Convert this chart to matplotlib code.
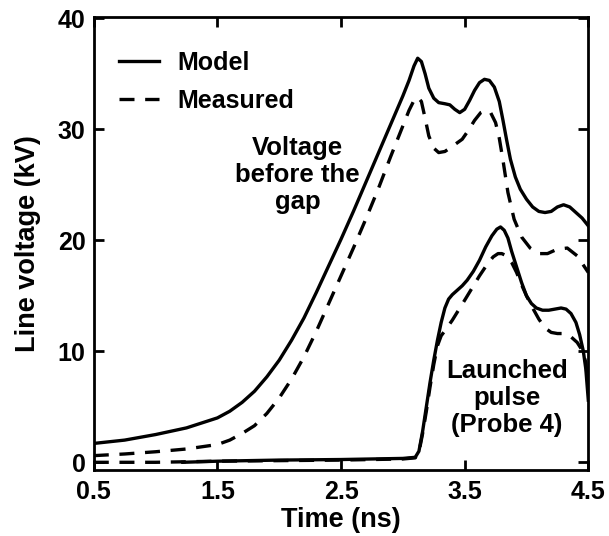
import matplotlib
matplotlib.use('Agg')
import matplotlib.pyplot as plt

plt.rcParams['font.family'] = ['Liberation Sans', 'DejaVu Sans']
plt.rcParams['font.weight'] = 'bold'

# voltage before the gap
t_gap_model = [0.5, 0.75, 1.0, 1.25, 1.5, 1.6, 1.7, 1.8, 1.9, 2.0, 2.1, 2.2, 2.3, 2.4,
               2.5, 2.6, 2.7, 2.8, 2.9, 3.0, 3.05, 3.09, 3.12, 3.15, 3.18, 3.21, 3.25,
               3.29, 3.34, 3.38, 3.42, 3.46, 3.5, 3.54, 3.58, 3.62, 3.66, 3.7, 3.74,
               3.78, 3.81, 3.84, 3.87, 3.91, 3.95, 4.0, 4.05, 4.1, 4.15, 4.2, 4.25,
               4.3, 4.35, 4.4, 4.45, 4.5]
v_gap_model = [1.7, 2.0, 2.5, 3.1, 4.0, 4.6, 5.4, 6.4, 7.7, 9.2, 11.0, 13.0, 15.3, 17.7,
               20.1, 22.6, 25.2, 27.8, 30.4, 33.0, 34.4, 35.7, 36.4, 36.1, 35.0, 33.7, 32.8,
               32.4, 32.3, 32.2, 31.8, 31.5, 31.8, 32.6, 33.5, 34.2, 34.5, 34.4, 33.8,
               32.5, 30.8, 29.0, 27.3, 25.7, 24.6, 23.7, 23.0, 22.6, 22.5, 22.6, 23.0,
               23.2, 23.0, 22.5, 22.0, 21.3]

t_gap_meas = [0.5, 0.75, 1.0, 1.25, 1.5, 1.6, 1.7, 1.8, 1.9, 2.0, 2.1, 2.2, 2.3, 2.4,
              2.5, 2.6, 2.7, 2.8, 2.9, 3.0, 3.05, 3.09, 3.12, 3.15, 3.18, 3.21, 3.25,
              3.29, 3.34, 3.38, 3.43, 3.48, 3.53, 3.58, 3.63, 3.67, 3.71, 3.75, 3.78,
              3.81, 3.85, 3.9, 3.96, 4.03, 4.1, 4.17, 4.25, 4.33, 4.41, 4.5]
v_gap_meas = [0.6, 0.75, 0.95, 1.2, 1.6, 2.0, 2.6, 3.3, 4.4, 5.8, 7.5, 9.5, 11.8, 14.3,
              16.8, 19.3, 21.9, 24.6, 27.5, 30.3, 31.7, 32.6, 32.9, 32.5, 31.0, 29.4, 28.3,
              27.9, 28.0, 28.3, 28.7, 29.1, 29.9, 30.8, 31.5, 31.7, 31.5, 30.6, 29.2,
              27.2, 24.3, 21.9, 20.3, 19.3, 18.8, 18.8, 19.2, 19.3, 18.6, 17.1]

# launched pulse (probe 4)
t_pulse_model = [1.22, 1.5, 2.0, 2.5, 3.0, 3.1, 3.13, 3.16, 3.19, 3.22, 3.25, 3.28, 3.31,
                 3.34, 3.37, 3.4, 3.44, 3.48, 3.52, 3.57, 3.62, 3.67, 3.72, 3.76, 3.79,
                 3.82, 3.85, 3.88, 3.92, 3.96, 4.0, 4.04, 4.08, 4.13, 4.18, 4.23, 4.28,
                 4.32, 4.36, 4.4, 4.43, 4.46, 4.48, 4.5]
v_pulse_model = [0.0, 0.1, 0.2, 0.25, 0.35, 0.45, 1.0, 2.8, 5.0, 7.2, 9.2, 11.0, 12.6,
                 13.9, 14.7, 15.1, 15.5, 15.9, 16.4, 17.2, 18.2, 19.4, 20.4, 21.0, 21.2,
                 20.9, 20.2, 19.0, 17.6, 16.2, 15.0, 14.3, 13.9, 13.7, 13.7, 13.8, 13.9,
                 13.8, 13.4, 12.6, 11.5, 10.0, 8.4, 5.6]

t_pulse_meas = [0.5, 1.0, 1.5, 2.0, 2.5, 3.0, 3.1, 3.13, 3.16, 3.19, 3.22, 3.25, 3.28,
                3.31, 3.35, 3.4, 3.45, 3.5, 3.56, 3.62, 3.68, 3.73, 3.77, 3.8, 3.84,
                3.88, 3.92, 3.96, 4.0, 4.05, 4.1, 4.15, 4.2, 4.25, 4.3, 4.36, 4.41,
                4.45, 4.48, 4.5]
v_pulse_meas = [0.0, 0.0, 0.1, 0.15, 0.2, 0.3, 0.4, 0.9, 2.6, 4.6, 6.8, 8.8, 10.5,
                11.4, 12.0, 12.8, 13.7, 14.6, 15.7, 16.8, 17.8, 18.5, 18.8, 18.8, 18.6,
                18.0, 17.1, 16.0, 15.0, 13.9, 12.9, 12.1, 11.7, 11.6, 11.6, 11.3, 10.8,
                10.1, 9.0, 6.5]

x_ticks = [0.5, 1.5, 2.5, 3.5, 4.5]
y_ticks = [0, 10, 20, 30, 40]

fig = plt.figure(figsize=(6.09, 5.36), dpi=100)
ax = fig.add_axes([0.154, 0.123, 0.812, 0.845])

lw = 2.4
dash = (0, (4.5, 3.2))
ax.plot(t_gap_model, v_gap_model, color='black', lw=lw, label='Model')
ax.plot(t_gap_meas, v_gap_meas, color='black', lw=lw, linestyle=dash, label='Measured')
ax.plot(t_pulse_meas, v_pulse_meas, color='black', lw=lw, linestyle=dash)
ax.plot(t_pulse_model, v_pulse_model, color='black', lw=lw)

ax.set_xlim(0.5, 4.5)
ax.set_ylim(-0.7, 40.1)
ax.set_xticks(x_ticks)
ax.set_yticks(y_ticks)
ax.set_xticklabels([str(v) for v in x_ticks])
ax.tick_params(direction='in', length=7, width=2, labelsize=18, top=True, right=True)
ax.tick_params(axis='x', pad=7)
ax.tick_params(axis='y', pad=6)
for s in ax.spines.values():
    s.set_linewidth(2)

ax.set_xlabel('Time (ns)', fontsize=19.5, fontweight='bold', labelpad=2)
ax.set_ylabel('Line voltage (kV)', fontsize=19.5, fontweight='bold', labelpad=12)

ax.legend(loc='upper left', bbox_to_anchor=(0.05, 0.925), frameon=False, fontsize=18,
          borderpad=0, borderaxespad=0, handlelength=1.6, handletextpad=0.75,
          labelspacing=0.55)

ax.text(2.15, 25.9, 'Voltage\nbefore the\ngap', ha='center', va='center',
        fontsize=18.5, fontweight='bold', linespacing=1.15)
ax.text(3.84, 5.8, 'Launched\npulse\n(Probe 4)', ha='center', va='center',
        fontsize=18.5, fontweight='bold', linespacing=1.15)

fig.savefig('out.png', dpi=100)
